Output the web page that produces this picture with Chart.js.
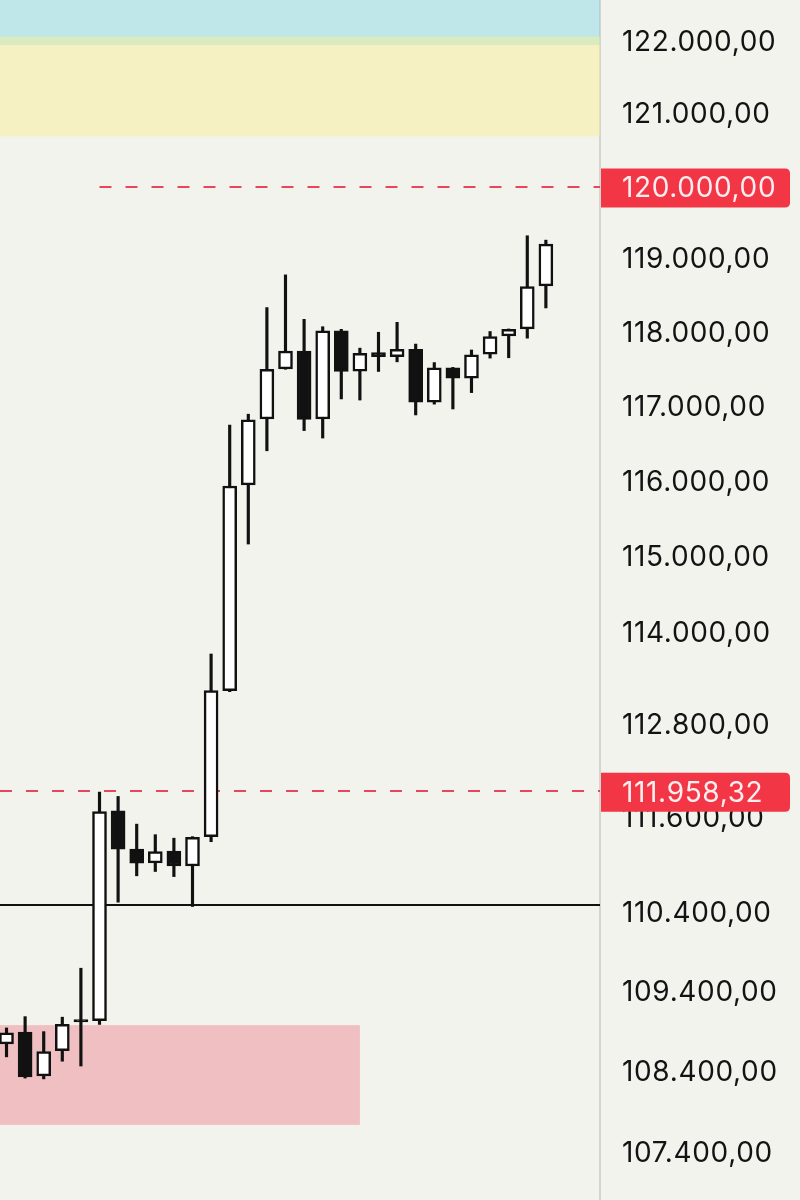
<!doctype html>
<html>
<head>
    <title>Gráfico de Velas</title>
    <script src="https://cdn.jsdelivr.net/npm/chart.js"></script>
    <style>
        html, body { margin: 0; padding: 0; background: #f3f3ee; }
        #caixa { width: 800px; height: 1200px; }
    </style>
</head>
<body>
    <div id="caixa">
        <canvas id="velas"></canvas>
    </div>

    <script>
        // Velas (abertura, máxima, mínima, fechamento), da esquerda para a direita
        var abertura   = [108756, 108902, 108357, 108672, 109060, 109045, 111705, 111215, 111040, 111190,
                          111000, 111375, 113258, 115965, 116845, 117520, 117760, 116845, 118035, 117490,
                          117740, 117685, 117785, 117070, 117535, 117395, 117720, 117965, 118060, 118645];
        var maxima     = [108955, 109097, 108909, 109090, 109705, 111945, 111890, 111535, 111400, 111355,
                          111375, 113735, 116765, 116910, 118350, 118795, 118190, 118090, 118055, 117800,
                          118015, 118150, 117855, 117605, 117540, 117775, 118025, 118060, 119330, 119270];
        var minima     = [108594, 108330, 108320, 108540, 108480, 109000, 110540, 110875, 110930, 110865,
                          110485, 111310, 113245, 115180, 116420, 117515, 116690, 116590, 117115, 117100,
                          117485, 117615, 116900, 117045, 116980, 117200, 117665, 117670, 117935, 118345];
        var fechamento = [108893, 108345, 108660, 109000, 109030, 111695, 111215, 111035, 111185, 111000,
                          111365, 113258, 115950, 116835, 117515, 117760, 116840, 118035, 117485, 117730,
                          117685, 117785, 117070, 117535, 117395, 117710, 117955, 118055, 118635, 119215];

        // Eixo de preços (escala logarítmica)
        var precosEixo = [122000, 121000, 120000, 119000, 118000, 117000, 116000, 115000, 114000,
                          112800, 111600, 110400, 109400, 108400, 107400];
        var rotulosEixo = ['122.000,00', '121.000,00', '120.000,00', '119.000,00', '118.000,00',
                           '117.000,00', '116.000,00', '115.000,00', '114.000,00', '112.800,00',
                           '111.600,00', '110.400,00', '109.400,00', '108.400,00', '107.400,00'];

        // Zonas e linhas desenhadas no gráfico
        var zonaAzul = [121970, 123000];
        var zonaAmarela = [120700, 122090];
        var zonaRosa = [107750, 108990];
        var zonaRosaVelas = [-1, 19];
        var linhaAlvo = 120000, inicioAlvo = 5, rotuloAlvo = '120.000,00';
        var precoAtual = 111958.32, rotuloAtual = '111.958,32';
        var suporte = 110500;

        var indices = abertura.map((v, i) => i);
        var fonte = { family: 'Inter', size: 28 };

        var desenhos = {
            id: 'desenhos',
            beforeDraw(chart) {
                // números do eixo um pouco mais espaçados
                chart.ctx.letterSpacing = '0.65px';
            },
            beforeDatasetsDraw(chart) {
                var ctx = chart.ctx, x = chart.scales.x, y = chart.scales.y, a = chart.chartArea;
                ctx.save();
                ctx.beginPath();
                ctx.rect(a.left, a.top, a.width, a.height);
                ctx.clip();

                function faixa(cor, x0, x1, v0, v1) {
                    var yt = y.getPixelForValue(v1), yb = y.getPixelForValue(v0);
                    ctx.fillStyle = cor;
                    ctx.fillRect(x0, yt, x1 - x0, yb - yt);
                }
                faixa('rgba(120,215,228,0.42)', a.left, a.right, zonaAzul[0], zonaAzul[1]);
                faixa('rgba(250,240,140,0.45)', a.left, a.right, zonaAmarela[0], zonaAmarela[1]);
                faixa('rgba(235,128,140,0.45)', x.getPixelForValue(zonaRosaVelas[0]), x.getPixelForValue(zonaRosaVelas[1]),
                      zonaRosa[0], zonaRosa[1]);

                // linha de suporte (preta)
                ctx.strokeStyle = '#111111';
                ctx.lineWidth = 2;
                var ys = Math.round(y.getPixelForValue(suporte));
                ctx.beginPath();
                ctx.moveTo(a.left, ys);
                ctx.lineTo(a.right, ys);
                ctx.stroke();

                // linhas tracejadas vermelhas
                ctx.strokeStyle = '#e6475c';
                ctx.setLineDash([12, 14]);
                var yAlvo = Math.round(y.getPixelForValue(linhaAlvo));
                ctx.beginPath();
                ctx.moveTo(x.getPixelForValue(inicioAlvo), yAlvo);
                ctx.lineTo(a.right, yAlvo);
                ctx.stroke();
                var yAtual = Math.round(y.getPixelForValue(precoAtual));
                ctx.beginPath();
                ctx.moveTo(a.left, yAtual);
                ctx.lineTo(a.right, yAtual);
                ctx.stroke();
                ctx.restore();
            },
            afterDraw(chart) {
                var ctx = chart.ctx, y = chart.scales.y;
                ctx.save();
                function etiqueta(valor, texto) {
                    var yc = y.getPixelForValue(valor);
                    var x0 = y.left + 1, w = 189, h = 39, r = 5, y0 = yc - h / 2 + 1;
                    ctx.fillStyle = '#f23645';
                    ctx.beginPath();
                    ctx.moveTo(x0, y0);
                    ctx.lineTo(x0 + w - r, y0);
                    ctx.quadraticCurveTo(x0 + w, y0, x0 + w, y0 + r);
                    ctx.lineTo(x0 + w, y0 + h - r);
                    ctx.quadraticCurveTo(x0 + w, y0 + h, x0 + w - r, y0 + h);
                    ctx.lineTo(x0, y0 + h);
                    ctx.closePath();
                    ctx.fill();
                    ctx.fillStyle = '#fdeef0';
                    ctx.font = fonte.size + 'px ' + fonte.family;
                    ctx.textBaseline = 'middle';
                    ctx.textAlign = 'left';
                    ctx.fillText(texto, y.left + 22, yc + 2);
                }
                etiqueta(linhaAlvo, rotuloAlvo);
                etiqueta(precoAtual, rotuloAtual);
                ctx.restore();
            }
        };

        var velas = new Chart(document.getElementById('velas').getContext('2d'), {
            type: 'bar',
            data: {
                datasets: [{
                    label: 'Pavio',
                    data: indices.map(i => ({ x: i, y: [minima[i], maxima[i]] })),
                    backgroundColor: '#111111',
                    borderWidth: 0,
                    barThickness: 2.5,
                    grouped: false,
                    order: 2
                }, {
                    label: 'Corpo',
                    data: indices.map(i => ({ x: i, y: [abertura[i], fechamento[i]] })),
                    backgroundColor: indices.map(i => fechamento[i] >= abertura[i] ? '#ffffff' : '#111111'),
                    borderColor: '#111111',
                    borderWidth: 2.5,
                    borderSkipped: false,
                    barThickness: 14,
                    grouped: false,
                    order: 1
                }]
            },
            options: {
                responsive: true,
                maintainAspectRatio: false,
                animation: false,
                layout: { padding: 0 },
                plugins: {
                    legend: { display: false },
                    tooltip: { enabled: false }
                },
                scales: {
                    x: {
                        type: 'linear',
                        display: false,
                        offset: false,
                        min: -0.35,
                        max: 31.91
                    },
                    y: {
                        type: 'logarithmic',
                        position: 'right',
                        bounds: 'data',
                        min: 106824,
                        max: 122604,
                        grid: { display: false, drawTicks: false },
                        border: { display: true, color: '#d4d4d0', width: 2 },
                        ticks: {
                            autoSkip: false,
                            padding: 22,
                            color: '#131313',
                            font: fonte,
                            callback: (valor, i) => rotulosEixo[i]
                        },
                        afterBuildTicks: (eixo) => {
                            eixo.ticks = precosEixo.map(v => ({ value: v }));
                        },
                        afterFit: (eixo) => {
                            eixo.width = 200;
                            eixo.paddingTop = 0;
                            eixo.paddingBottom = 0;
                        }
                    }
                }
            },
            plugins: [desenhos]
        });
    </script>
</body>
</html>
